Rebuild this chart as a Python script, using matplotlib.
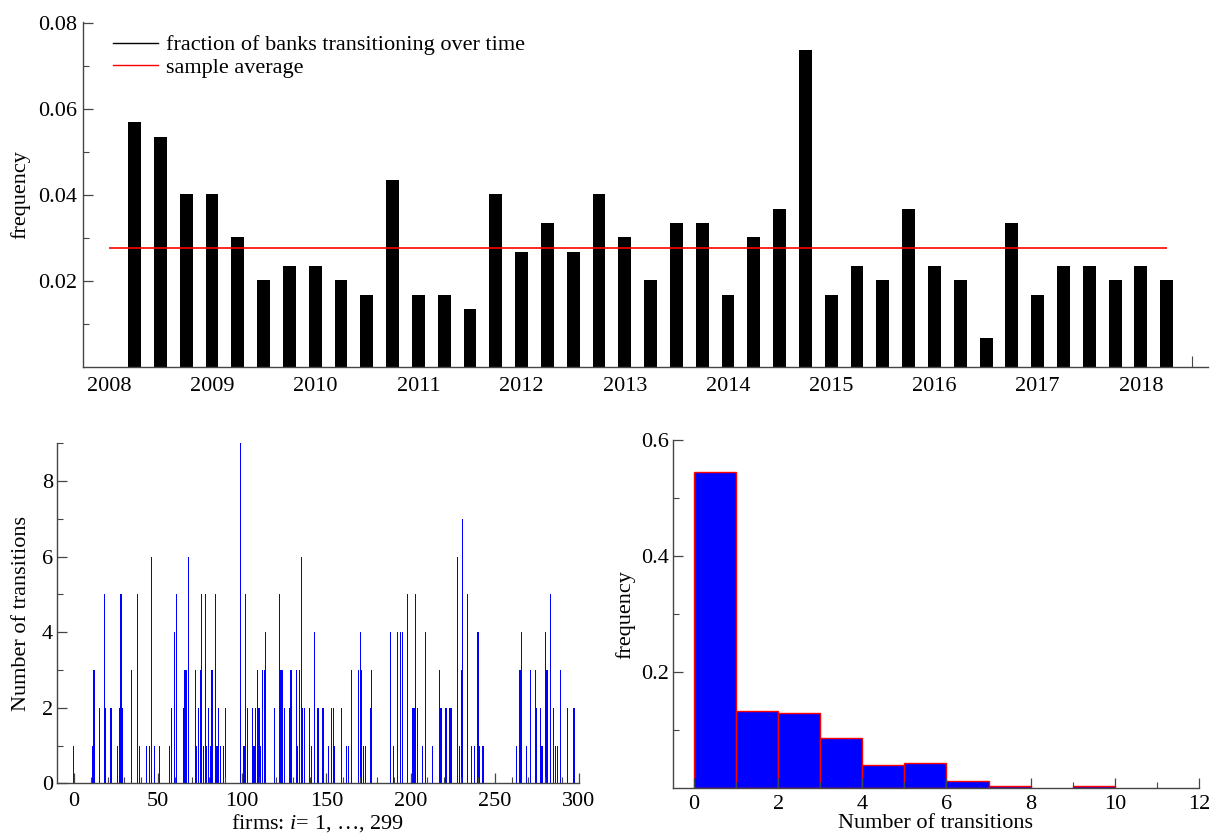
import numpy as np
import matplotlib
matplotlib.use('Agg')
import matplotlib.pyplot as plt
from matplotlib.lines import Line2D

plt.rcParams['font.family'] = ['Liberation Serif', 'DejaVu Serif']
plt.rcParams['mathtext.fontset'] = 'custom'
plt.rcParams['mathtext.rm'] = 'Liberation Serif'
plt.rcParams['mathtext.it'] = 'Liberation Serif:italic'

# ---------------- data ----------------
# top panel: fraction of banks transitioning per quarter (2008.0 ... 2018.25)
quarter_start = 2008.0
quarter_step = 0.25
freq = [0.0, 0.0569, 0.0535, 0.0401, 0.0401, 0.0301, 0.0201, 0.0234, 0.0234,
        0.0201, 0.0167, 0.0435, 0.0167, 0.0167, 0.0134, 0.0401, 0.0268, 0.0334,
        0.0268, 0.0401, 0.0301, 0.0201, 0.0334, 0.0334, 0.0167, 0.0301, 0.0368,
        0.0736, 0.0167, 0.0234, 0.0201, 0.0368, 0.0234, 0.0201, 0.0067, 0.0334,
        0.0167, 0.0234, 0.0234, 0.0201, 0.0234, 0.0201]
year_labels = list(range(2008, 2019))

# bottom panels: number of transitions per firm (firms with nonzero count)
n_firms = 299
firm_ids = [0, 11, 12, 15, 18, 19, 22, 26, 27, 28, 29, 34, 38, 39, 43, 45, 46, 48,
            51, 57, 58, 60, 61, 65, 66, 67, 68, 72, 73, 74, 75, 76, 77, 78, 79, 80,
            81, 82, 84, 85, 86, 87, 89, 90,
            99, 101, 102, 103, 106, 107, 108, 109, 110, 111, 112, 113, 114, 119,
            122, 123, 124, 125, 128, 129, 132, 133, 134, 135, 136, 137, 140, 141,
            143, 145, 148,
            151, 153, 154, 155, 159, 162, 163, 165, 169, 170, 171, 172, 173, 176, 177,
            188, 190, 192, 194, 195, 198, 201, 202, 203, 204, 207, 209, 213, 217,
            218, 221, 223, 224, 228, 229, 230, 231, 234, 236, 238, 240, 241, 243,
            263, 265, 266, 269, 271, 274, 275, 277, 278, 280, 281, 283, 285, 286,
            287, 289, 293, 297]
firm_counts = [1, 1, 3, 2, 5, 2, 2, 1, 2, 5, 2, 3, 5, 1, 1, 1, 6, 1,
               1, 1, 2, 4, 5, 2, 3, 3, 6, 3, 1, 2, 3, 5, 1, 5, 1, 2,
               1, 3, 5, 1, 2, 1, 1, 2,
               9, 1, 5, 2, 2, 1, 2, 3, 2, 1, 3, 3, 4, 2,
               5, 3, 3, 2, 2, 3, 3, 1, 3, 6, 2, 2, 2, 1,
               4, 2, 2,
               1, 2, 2, 1, 2, 1, 1, 3, 3, 4, 3, 1, 1, 2, 3,
               4, 1, 4, 4, 4, 5, 2, 2, 5, 2, 1, 4, 1, 3,
               2, 2, 2, 2, 6, 1, 3, 7, 5, 1, 1, 4, 1, 1,
               1, 3, 4, 1, 3, 3, 2, 2, 1, 4, 3, 5, 2, 1,
               1, 3, 2, 2]

# ---------------- derived ----------------
quarters = quarter_start + quarter_step * np.arange(len(freq))
avg = float(np.mean(freq))
transitions = np.zeros(n_firms)
transitions[np.array(firm_ids)] = firm_counts

axis_col = '#454545'
FS = 16

def style(ax):
    for s in ('top', 'right'):
        ax.spines[s].set_visible(False)
    for s in ('left', 'bottom'):
        ax.spines[s].set_color(axis_col)
        ax.spines[s].set_linewidth(1.0)
    ax.tick_params(which='both', direction='in', colors=axis_col,
                   labelcolor='black', labelsize=FS)
    ax.tick_params(which='major', length=7, width=0.9)
    ax.tick_params(which='minor', length=4, width=0.8)

fig = plt.figure(figsize=(12.11, 8.36), dpi=100)

# ---------------- top panel ----------------
ax1 = fig.add_axes([0.0685, 0.561, 0.929, 0.413])
ax1.bar(quarters, freq, width=0.125, color='black', linewidth=0)
ax1.hlines(avg, quarters[0], quarters[-1], color='red', linewidth=1.2)
ax1.set_xlim(2007.75, 2018.65)
ax1.set_ylim(0, 0.0802)
style(ax1)
ax1.set_yticks([0.02, 0.04, 0.06, 0.08])
ax1.set_yticklabels(['0.02', '0.04', '0.06', '0.08'])
ax1.set_yticks([0.01, 0.03, 0.05, 0.07], minor=True)
ax1.set_xticks(year_labels)
ax1.set_xticklabels([str(y) for y in year_labels])
ax1.tick_params(axis='x', which='major', length=0, pad=7)
ax1.set_xticks([2008, 2018.5], minor=True)
ax1.tick_params(axis='x', which='minor', length=8)
ax1.tick_params(axis='y', which='major', pad=4)
ax1.set_ylabel('frequency', fontsize=FS, labelpad=6)
handles = [Line2D([], [], color='black', lw=1.0), Line2D([], [], color='red', lw=1.0)]
ax1.legend(handles, ['fraction of banks transitioning over time', 'sample average'],
           loc='upper left', bbox_to_anchor=(0.027, 0.962), frameon=False,
           fontsize=FS, handlelength=2.0, handletextpad=0.36, labelspacing=0.1,
           borderaxespad=0, borderpad=0)

# ---------------- bottom-left panel ----------------
ax2 = fig.add_axes([0.0471, 0.063, 0.431, 0.4067])
ax2.bar(np.arange(n_firms), transitions, width=0.7, color='#0000ff', linewidth=0)
ax2.set_xlim(-10, 300)
ax2.set_ylim(0, 9)
style(ax2)
ax2.set_xticks(np.arange(0, 301, 50))
ax2.set_xticks(np.arange(10, 300, 10), minor=True)
ax2.set_yticks([0, 2, 4, 6, 8])
ax2.set_yticks([1, 3, 5, 7, 9], minor=True)
ax2.tick_params(axis='x', which='major', pad=6)
ax2.tick_params(axis='y', which='major', pad=3)
ax2.set_xlabel(r'firms: $i$= 1, …, 299', fontsize=FS, labelpad=1)
ax2.set_ylabel('Number of transitions', fontsize=FS, labelpad=8)

# ---------------- bottom-right panel ----------------
ax3 = fig.add_axes([0.5557, 0.057, 0.4343, 0.4167])
weights = np.ones(n_firms) / n_firms
_, _, patches = ax3.hist(transitions, bins=np.arange(0, 11), weights=weights,
                         facecolor='#0000ff', edgecolor='red', linewidth=1.0)
for p in patches:
    if p.get_height() <= 0:
        p.set_visible(False)
ax3.set_xlim(-0.5, 12)
ax3.set_ylim(0, 0.6)
style(ax3)
ax3.set_xticks(np.arange(0, 13, 2))
ax3.set_xticks(np.arange(1, 12, 2), minor=True)
ax3.set_yticks([0.2, 0.4, 0.6])
ax3.set_yticklabels(['0.2', '0.4', '0.6'])
ax3.set_yticks([0.1, 0.3, 0.5], minor=True)
ax3.tick_params(axis='x', which='major', pad=5)
ax3.tick_params(axis='y', which='major', pad=3)
ax3.set_xlabel('Number of transitions', fontsize=FS, labelpad=0)
ax3.set_ylabel('frequency', fontsize=FS, labelpad=4)

fig.savefig('out.png', dpi=100)
